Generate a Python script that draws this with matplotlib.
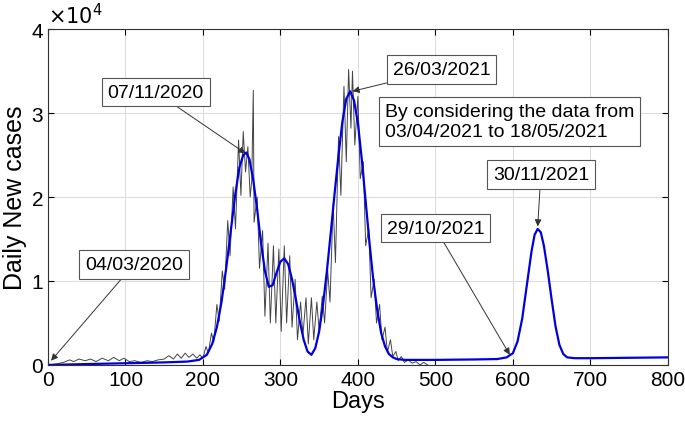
import numpy as np
import matplotlib.pyplot as plt

plt.rcParams['font.family'] = ['Liberation Sans', 'DejaVu Sans']

# reported daily cases (x 1e4)
days_obs = [0, 10, 20, 28, 33, 40, 48, 55, 62, 70, 78, 85, 92, 98, 105, 112,
            120, 128, 135, 142, 150, 156, 162, 167, 172, 177, 182, 187, 192,
            196, 200, 204, 207, 211, 214, 218, 221, 225, 228, 232, 235, 239,
            242, 246, 249, 252, 255, 258, 261, 263, 265, 266, 270, 273, 277,
            280, 284, 287, 291, 294, 298, 301, 305, 308, 312, 315, 319, 322,
            326, 329, 333, 336, 340, 343, 347, 350, 354, 357, 361, 364, 368,
            371, 375, 378, 382, 385, 388, 391, 393, 396, 400, 403, 407, 410,
            414, 417, 421, 424, 428, 431, 435, 438, 442, 445, 449, 452, 456,
            460, 465, 470, 475, 480, 485, 490]
cases_obs = [0.0, 0.01, 0.03, 0.06, 0.04, 0.07, 0.05, 0.07, 0.04, 0.08, 0.05,
             0.09, 0.05, 0.08, 0.04, 0.05, 0.03, 0.05, 0.04, 0.06, 0.07, 0.11,
             0.07, 0.13, 0.08, 0.14, 0.09, 0.13, 0.08, 0.12, 0.08, 0.22, 0.14,
             0.38, 0.27, 0.72, 0.52, 1.12, 0.9, 1.72, 1.3, 2.12, 1.62, 2.68,
             2.02, 2.78, 2.3, 2.6, 2.0, 2.2, 3.27, 1.7, 2.0, 1.15, 1.6, 0.58,
             1.45, 0.5, 1.42, 0.5, 1.38, 0.4, 1.42, 0.5, 1.3, 0.45, 1.02, 0.3,
             0.75, 0.35, 0.8, 0.25, 0.8, 0.3, 0.75, 0.4, 0.82, 0.5, 1.12, 0.75,
             1.92, 1.22, 2.72, 2.02, 3.32, 2.42, 3.52, 2.82, 3.5, 2.62, 3.2,
             2.22, 2.42, 1.42, 1.62, 0.8, 1.02, 0.5, 0.72, 0.3, 0.45, 0.15,
             0.3, 0.1, 0.16, 0.05, 0.1, 0.03, 0.06, 0.02, 0.04, 0.0, 0.03, 0.0]

# fitted model curve (x 1e4)
days_fit = [0, 50, 100, 150, 180, 195, 205, 212, 218, 224, 230, 236, 242,
            247, 252, 256, 260, 265, 270, 275, 280, 285, 290, 295, 300, 305,
            310, 315, 320, 325, 330, 335, 340, 345, 350, 355, 360, 365, 370,
            375, 380, 385, 390, 395, 400, 405, 410, 415, 420, 425, 430, 435,
            440, 445, 450, 460, 500, 550, 580, 592, 600, 606, 612, 618, 624,
            628, 632, 636, 640, 645, 650, 655, 660, 665, 670, 680, 700, 750,
            800]
cases_fit = [0.0, 0.01, 0.02, 0.03, 0.04, 0.06, 0.12, 0.25, 0.45, 0.75, 1.15,
             1.6, 2.05, 2.35, 2.5, 2.53, 2.45, 2.2, 1.85, 1.45, 1.12, 0.93,
             0.95, 1.1, 1.23, 1.27, 1.2, 1.02, 0.78, 0.52, 0.3, 0.16, 0.12,
             0.2, 0.4, 0.72, 1.12, 1.58, 2.05, 2.5, 2.9, 3.17, 3.26, 3.15,
             2.88, 2.45, 1.95, 1.45, 1.0, 0.65, 0.38, 0.22, 0.13, 0.09, 0.07,
             0.06, 0.06, 0.065, 0.07, 0.09, 0.14, 0.28, 0.55, 0.95, 1.35,
             1.55, 1.62, 1.58, 1.42, 1.12, 0.78, 0.46, 0.24, 0.13, 0.09, 0.08,
             0.08, 0.085, 0.09]

fig = plt.figure(figsize=(6.85, 4.31), dpi=100)
ax = fig.add_axes([0.070, 0.151, 0.905, 0.779])

ax.plot(days_obs, cases_obs, color='#444444', lw=0.7)
ax.plot(days_fit, cases_fit, color='#0000dd', lw=1.6)

ax.set_xlim(0, 800)
ax.set_ylim(0, 4)
ax.set_xticks(np.arange(0, 801, 100))
ax.set_yticks([0, 1, 2, 3, 4])
ax.grid(True, color='#dddddd', lw=0.8)
ax.set_axisbelow(True)
ax.tick_params(direction='in', top=True, right=True, labelsize=15, length=4)
for s in ax.spines.values():
    s.set_color('#333333')
    s.set_linewidth(0.8)
ax.set_xlabel('Days', fontsize=17, labelpad=1)
ax.set_ylabel('Daily New cases', fontsize=18, labelpad=3)
ax.text(0.0, 1.005, r'$\times10^{4}$', transform=ax.transAxes, fontsize=15,
        va='bottom', ha='left')

box = dict(boxstyle='square,pad=0.3', fc='white', ec='#555555', lw=0.8)
arr = dict(arrowstyle='-|>', color='#333333', lw=0.7, mutation_scale=10,
           shrinkA=0, shrinkB=0)

ax.annotate('07/11/2020', xy=(255, 2.52), xytext=(77, 3.25), fontsize=14,
            bbox=box, arrowprops=arr, va='center', ha='left')
ax.annotate('04/03/2020', xy=(4, 0.05), xytext=(48, 1.2), fontsize=14,
            bbox=box, arrowprops=arr, va='center', ha='left')
ax.annotate('26/03/2021', xy=(393, 3.26), xytext=(445, 3.52), fontsize=14,
            bbox=box, arrowprops=arr, va='center', ha='left')
ax.annotate('30/11/2021', xy=(632, 1.65), xytext=(574, 2.27), fontsize=14,
            bbox=box, arrowprops=arr, va='center', ha='left')
ax.annotate('29/10/2021', xy=(596, 0.12), xytext=(437, 1.63), fontsize=14,
            bbox=box, arrowprops=arr, va='center', ha='left')
ax.text(435, 2.9, 'By considering the data from\n03/04/2021 to 18/05/2021',
        fontsize=14, bbox=box, va='center', ha='left', linespacing=1.3)

fig.savefig('out.png', dpi=100)
